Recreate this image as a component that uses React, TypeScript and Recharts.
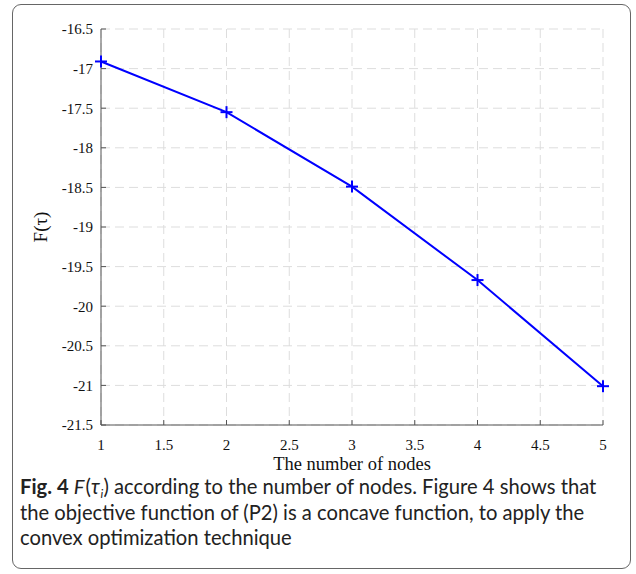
import { LineChart, Line, XAxis, YAxis, CartesianGrid } from 'recharts';

const nodes = [1, 2, 3, 4, 5];
const fValues = [-16.91, -17.55, -18.49, -19.67, -21.01];
const xTicks = [1, 1.5, 2, 2.5, 3, 3.5, 4, 4.5, 5];
const yTicks = [-21.5, -21, -20.5, -20, -19.5, -19, -18.5, -18, -17.5, -17, -16.5];

const data = nodes.map((n, i) => ({ n, f: fValues[i] }));

const serif = '"Liberation Serif", "DejaVu Serif", serif';
const axisColor = '#555';

const PlusDot = (props: any) => {
  const { cx, cy, index } = props;
  if (cx == null || cy == null) return null;
  return (
    <g key={`dot-${index}`}>
      <line x1={cx - 6} y1={cy} x2={cx + 6} y2={cy} stroke="#0000ff" strokeWidth={2} />
      <line x1={cx} y1={cy - 6} x2={cx} y2={cy + 6} stroke="#0000ff" strokeWidth={2} />
    </g>
  );
};

export default function App() {
  return (
    <div style={{ position: 'relative', width: 636, height: 574, background: '#fff' }}>
      <style>{`body{margin:0}`}</style>
      <div
        style={{
          position: 'absolute', left: 12, top: 4, width: 619, height: 565,
          border: '1.5px solid #666', borderRadius: 9, boxSizing: 'border-box',
        }}
      />
      <div style={{ position: 'absolute', left: 0, top: 0 }}>
        <LineChart width={636} height={480} data={data} margin={{ top: 29, right: 33, left: 0, bottom: 0 }}>
          <CartesianGrid stroke="#ddd" strokeDasharray="9 5" horizontalValues={yTicks} verticalValues={xTicks} />
          <XAxis
            dataKey="n" type="number" domain={[1, 5]} ticks={xTicks}
            height={55} tickSize={-5} tickMargin={19}
            stroke={axisColor} tick={{ fill: '#111', fontSize: 15, fontFamily: serif }}
            label={{ value: 'The number of nodes', position: 'insideBottom', offset: 10, fill: '#111', fontSize: 18.5, fontFamily: serif }}
          />
          <XAxis
            xAxisId="top" orientation="top" dataKey="n" type="number" domain={[1, 5]} ticks={xTicks}
            height={0} tickSize={-5} tick={false} stroke={axisColor}
          />
          <YAxis
            type="number" domain={[-21.5, -16.5]} ticks={yTicks} width={101}
            tickSize={-5} tickMargin={13} stroke={axisColor}
            tick={{ fill: '#111', fontSize: 15, fontFamily: serif }}
            label={{ value: 'F(τ)', angle: -90, position: 'insideLeft', offset: 40, fill: '#111', fontSize: 19, fontFamily: serif, style: { textAnchor: 'middle' } }}
          />
          <YAxis
            yAxisId="right" orientation="right" type="number" domain={[-21.5, -16.5]} ticks={yTicks}
            width={0} tickSize={-5} tick={false} stroke={axisColor}
          />
          <Line
            dataKey="f" stroke="#0000ff" strokeWidth={2} isAnimationActive={false}
            dot={<PlusDot />} activeDot={false}
          />
        </LineChart>
      </div>
      <div
        style={{
          position: 'absolute', left: 20, top: 474, width: 592,
          fontFamily: 'Lato, "Open Sans", sans-serif', fontSize: 20.2, lineHeight: '25.5px', color: '#222',
        }}
      >
        <b>Fig. 4</b> <i style={{ marginRight: 1 }}>F</i>(<i>τ</i><span style={{ fontSize: 12, position: 'relative', top: 4, lineHeight: 0, marginLeft: 1 }}><i>i</i></span>) according to the number of nodes. Figure 4 shows that the objective function of (P2) is a concave function, to apply the convex optimization technique
      </div>
    </div>
  );
}
